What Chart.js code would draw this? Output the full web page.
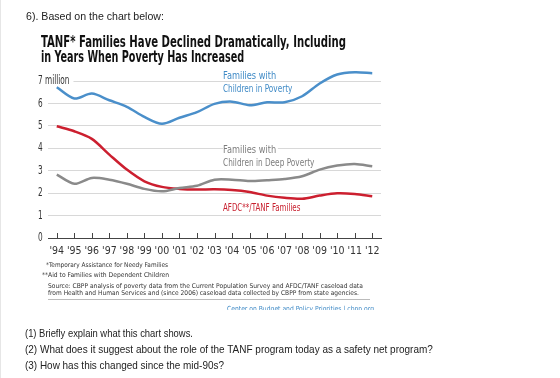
<!DOCTYPE html>
<html>
<head>
<meta charset="utf-8">
<script src="https://cdn.jsdelivr.net/npm/chart.js@4/dist/chart.umd.min.js"></script>
<style>
  html, body { margin: 0; padding: 0; background: #fff; }
  #page { position: relative; width: 560px; height: 378px; overflow: hidden; border-left: 1px solid #e6e6e6; box-sizing: border-box; }
  #grafica { position: absolute; left: 0; top: 0; }
  .t { position: absolute; white-space: nowrap; transform-origin: 0 50%; line-height: 1; }
  .page-txt { font-family: "Liberation Sans", Arial, sans-serif; font-size: 11px; color: #222; }
  .narrow { font-family: "Liberation Sans Narrow", "DejaVu Sans Condensed", "Liberation Sans", sans-serif; }
  .title { font-weight: bold; font-size: 16px; color: #111; }
  .lbl { font-size: 10px; background: #fff; padding-right: 2px; }
  .foot { font-size: 6.5px; color: #333; }
  #clip { position: absolute; left: 0; top: 0; width: 560px; height: 310px; overflow: hidden; }
  #hr { position: absolute; left: 47px; top: 299px; width: 322px; height: 0; border-top: 1px solid #bbb; }
</style>
</head>
<body>
<div id="page">
  <div id="clip">
    <canvas id="grafica" width="560" height="378"></canvas>
    <div class="t page-txt" data-w="138" style="left:25px; top:11px;">6). Based on the chart below:</div>
    <div class="t narrow title" data-w="305" style="left:40px; top:34px;">TANF* Families Have Declined Dramatically, Including</div>
    <div class="t narrow title" data-w="203" style="left:40px; top:49px;">in Years When Poverty Has Increased</div>

    <div class="t narrow lbl" data-w="55" style="left:222px; top:71px; color:#3f8ac6;">Families with</div>
    <div class="t narrow lbl" data-w="71" style="left:222px; top:84px; color:#3f8ac6;">Children in Poverty</div>
    <div class="t narrow lbl" data-w="55" style="left:222px; top:145px; color:#7d7d7d;">Families with</div>
    <div class="t narrow lbl" data-w="93" style="left:222px; top:158px; color:#7d7d7d;">Children in Deep Poverty</div>
    <div class="t narrow lbl" data-w="79" style="left:222px; top:203px; color:#c8202f;">AFDC**/TANF Families</div>

    <div class="t narrow foot" data-w="122" style="left:45px; top:262px;">*Temporary Assistance for Needy Families</div>
    <div class="t narrow foot" data-w="127" style="left:41px; top:272px;">**Aid to Families with Dependent Children</div>
    <div class="t narrow foot" data-w="315" style="left:47px; top:283px;">Source: CBPP analysis of poverty data from the Current Population Survey and AFDC/TANF caseload data</div>
    <div class="t narrow foot" data-w="311" style="left:47px; top:290px;">from Health and Human Services and (since 2006) caseload data collected by CBPP from state agencies.</div>
    <div id="hr"></div>
    <div class="t narrow foot" data-w="147" style="left:226px; top:306px; color:#3f8ac6; font-size:7px;">Center on Budget and Policy Priorities | cbpp.org</div>
  </div>

  <div class="t page-txt" data-w="168" style="left:24px; top:328px;">(1) Briefly explain what this chart shows.</div>
  <div class="t page-txt" data-w="408" style="left:24px; top:344px;">(2) What does it suggest about the role of the TANF program today as a safety net program?</div>
  <div class="t page-txt" data-w="199" style="left:24px; top:360px;">(3) How has this changed since the mid-90s?</div>
</div>

<script>
// años del eje x
const anios = ["'94", "'95", "'96", "'97", "'98", "'99", "'00", "'01", "'02", "'03", "'04", "'05", "'06", "'07", "'08", "'09", "'10", "'11", "'12"];

// millones de familias
const familiasPobreza = [6.72, 6.22, 6.44, 6.14, 5.85, 5.40, 5.09, 5.36, 5.61, 5.98, 6.08, 5.92, 6.05, 6.05, 6.32, 6.89, 7.29, 7.39, 7.35];
const familiasPobrezaExtrema = [2.83, 2.42, 2.68, 2.60, 2.42, 2.19, 2.08, 2.23, 2.33, 2.60, 2.60, 2.54, 2.58, 2.63, 2.75, 3.05, 3.23, 3.30, 3.20];
const familiasTanf = [4.98, 4.76, 4.42, 3.72, 3.05, 2.53, 2.28, 2.19, 2.16, 2.17, 2.14, 2.05, 1.89, 1.79, 1.75, 1.89, 1.99, 1.96, 1.86];

// etiquetas del eje y (valor 0..7)
const etiquetasY = ['0', '1', '2', '3', '4', '5', '6', '7 million'];

const fuenteEje = "'Liberation Sans Narrow', 'DejaVu Sans Condensed', 'Liberation Sans', sans-serif";

// marcas cortas hacia arriba sobre el eje x y etiquetas del eje y (estrechas, con fondo blanco)
const ejesExtra = {
    id: 'ejesExtra',
    beforeDatasetsDraw(chart) {
        const ctx = chart.ctx;
        const x = chart.scales.x;
        const y = chart.scales.y;
        const y0 = y.getPixelForValue(0);
        ctx.save();
        ctx.strokeStyle = '#444';
        ctx.lineWidth = 1;
        for (let i = 0; i < anios.length; i++) {
            const px = Math.round(x.getPixelForTick(i)) + 0.5;
            ctx.beginPath();
            ctx.moveTo(px, y0);
            ctx.lineTo(px, y0 - 5);
            ctx.stroke();
        }
        const estrecho = 0.68;
        ctx.font = '12px ' + fuenteEje;
        ctx.textBaseline = 'middle';
        ctx.textAlign = 'left';
        for (let v = 0; v < etiquetasY.length; v++) {
            const py = y.getPixelForValue(v);
            const w = ctx.measureText(etiquetasY[v]).width * estrecho;
            ctx.fillStyle = '#fff';
            ctx.fillRect(36, py - 6, w + 5, 12);
            ctx.save();
            ctx.translate(37, py);
            ctx.scale(estrecho, 1);
            ctx.fillStyle = '#333';
            ctx.fillText(etiquetasY[v], 0, 0);
            ctx.restore();
        }
        ctx.restore();
    }
};

new Chart(document.getElementById('grafica').getContext('2d'), {
    type: 'line',
    data: {
        labels: anios,
        datasets: [
            { data: familiasPobreza, borderColor: '#4a8fca', borderWidth: 2.5, pointRadius: 0, tension: 0.3, fill: false, clip: false },
            { data: familiasPobrezaExtrema, borderColor: '#8a8a8a', borderWidth: 2.5, pointRadius: 0, tension: 0.3, fill: false, clip: false },
            { data: familiasTanf, borderColor: '#cc1f2f', borderWidth: 2.5, pointRadius: 0, tension: 0.3, fill: false, clip: false }
        ]
    },
    options: {
        responsive: false,
        animation: false,
        devicePixelRatio: 1,
        layout: { padding: { left: 38, top: 81, right: 180, bottom: 120 } },
        plugins: { legend: { display: false }, tooltip: { enabled: false } },
        scales: {
            x: {
                offset: true,
                grid: { drawOnChartArea: false, drawTicks: false },
                border: { color: '#444', width: 1 },
                ticks: { padding: 7, maxRotation: 0, autoSkip: false, color: '#333', font: { family: fuenteEje, size: 10.5 } },
                afterFit: function (s) { s.height = 20; }
            },
            y: {
                min: 0,
                max: 7,
                grid: { color: '#d8d8d8', drawTicks: false },
                border: { display: false },
                ticks: { stepSize: 1, display: false },
                afterFit: function (s) { s.width = 9; }
            }
        }
    },
    plugins: [ejesExtra]
});

// ajustar el ancho de los textos al original
document.querySelectorAll('[data-w]').forEach(function (el) {
    const ancho = el.getBoundingClientRect().width;
    const objetivo = parseFloat(el.getAttribute('data-w'));
    if (ancho > 0) el.style.transform = 'scaleX(' + (objetivo / ancho).toFixed(3) + ')';
});
</script>
</body>
</html>
